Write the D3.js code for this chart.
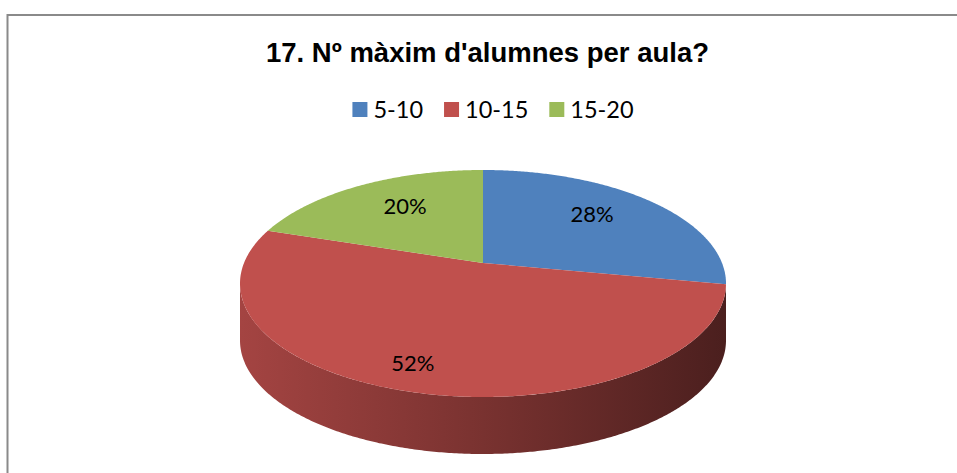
<!DOCTYPE html>
<html>
<head>
<meta charset="utf-8">
<script src="https://cdn.jsdelivr.net/npm/d3@7"></script>
<style>
  body { margin: 0; background: #fff; }
  svg { display: block; }
  .title { font-family: "Liberation Sans", Arial, sans-serif; font-weight: bold; font-size: 27.5px; fill: #000; }
  .legend-text { font-family: Lato, "Open Sans", sans-serif; font-size: 23.5px; fill: #000; }
  .pie-label { font-family: Lato, "Open Sans", sans-serif; font-size: 22px; fill: #000; }
</style>
</head>
<body>
<div class="pie_wrapper"></div>
<script>

// data

const categories = ["5-10", "10-15", "15-20"]
const values = [28, 52, 20]
const colors = ["#4f81bd", "#c0504d", "#9bbb59"]
const titleText = "17. Nº màxim d'alumnes per aula?"


// canvas

let dimensions = {
  width: 957,
  height: 473,
}

const wrapper = d3.select(".pie_wrapper")
  .append("svg")
    .attr("width", dimensions.width)
    .attr("height", dimensions.height)

// frame (only left and top edges fit in the shot)
wrapper.append("rect")
    .attr("x", 7.5)
    .attr("y", 15)
    .attr("width", 1000)
    .attr("height", 1000)
    .attr("fill", "none")
    .attr("stroke", "#8a8a8a")
    .attr("stroke-width", 2)

wrapper.append("text")
    .attr("class", "title")
    .attr("x", 487.5)
    .attr("y", 62)
    .attr("text-anchor", "middle")
    .text(titleText)


// legend

const legend = wrapper.append("g")
const items = legend.selectAll("g")
  .data(categories)
  .enter().append("g")

items.append("rect")
    .attr("width", 15)
    .attr("height", 15)
    .attr("y", -15.5)
    .attr("fill", (d, i) => colors[i])

items.append("text")
    .attr("class", "legend-text")
    .attr("x", 21)
    .text(d => d)

const itemGap = 21
let xPos = 0
items.each(function() {
  const g = d3.select(this)
  g.attr("transform", `translate(${xPos},0)`)
  xPos += 21 + g.select("text").node().getComputedTextLength() + itemGap
})
const legendWidth = xPos - itemGap
legend.attr("transform", `translate(${493 - legendWidth / 2},117.5)`)


// pie geometry (perspective tilted disc)

const pie = {
  cx: 483,
  cy: 263,
  sx: 239,     // horizontal radius factor
  sy: 109.8,   // depth radius factor
  k: 0.1806,   // perspective strength
  depth: 57,   // thickness of the disc
}

const toRad = d => d * Math.PI / 180
const toDeg = r => r * 180 / Math.PI

const project = (deg, r, drop = 0) => {
  const u = r * Math.sin(toRad(deg))
  const v = r * Math.cos(toRad(deg))
  const w = 1 + pie.k * v
  return [pie.cx + pie.sx * u / w, pie.cy - pie.sy * v / w + drop]
}

const angleScale = d3.scaleLinear()
  .domain([0, d3.sum(values)])
  .range([0, 360])

const slices = values.map((v, i) => ({
    i,
    a0: angleScale(d3.sum(values.slice(0, i))),
    a1: angleScale(d3.sum(values.slice(0, i + 1))),
    value: v,
  }))

const arcPoints = (a0, a1, r, drop) => {
  const n = Math.max(2, Math.ceil(Math.abs(a1 - a0) * 2))
  return d3.range(n + 1).map(j => project(a0 + (a1 - a0) * j / n, r, drop))
}

const line = d3.line()

const bounds = wrapper.append("g")

// front walls, visible between the two silhouette angles
const frontStart = toDeg(Math.acos(-pie.k))
const frontEnd = 360 - frontStart
const xRight = project(frontStart, 1)[0]
const xLeft = project(frontEnd, 1)[0]

const defs = wrapper.append("defs")
slices.forEach(s => {
  const grad = defs.append("linearGradient")
      .attr("id", `wall${s.i}`)
      .attr("gradientUnits", "userSpaceOnUse")
      .attr("x1", xLeft).attr("x2", xRight)
      .attr("y1", 0).attr("y2", 0)
  const base = d3.color(colors[s.i])
  grad.append("stop").attr("offset", 0).attr("stop-color", base.darker(0.45))
  grad.append("stop").attr("offset", 0.5).attr("stop-color", base.darker(1.3))
  grad.append("stop").attr("offset", 1).attr("stop-color", base.darker(2.65))
})

bounds.selectAll(".wall")
  .data(slices.filter(s => s.a1 > frontStart && s.a0 < frontEnd))
  .enter().append("path")
    .attr("class", "wall")
    .attr("fill", s => `url(#wall${s.i})`)
    .attr("d", s => {
      const a0 = Math.max(s.a0, frontStart)
      const a1 = Math.min(s.a1, frontEnd)
      const top = arcPoints(a0, a1, 1, 0)
      const bottom = arcPoints(a1, a0, 1, pie.depth)
      return line(top.concat(bottom)) + "Z"
    })

// top faces
bounds.selectAll(".top")
  .data(slices)
  .enter().append("path")
    .attr("class", "top")
    .attr("fill", s => colors[s.i])
    .attr("d", s => line([project(0, 0)].concat(arcPoints(s.a0, s.a1, 1, 0))) + "Z")

// labels
const labelRadius = [0.69, 0.82, 0.68]
const labelShift = [-4.5, 3.5, 4]
const labelPos = s => project((s.a0 + s.a1) / 2 + labelShift[s.i], labelRadius[s.i])

bounds.selectAll(".pie-label")
  .data(slices)
  .enter().append("text")
    .attr("class", "pie-label")
    .attr("text-anchor", "middle")
    .attr("dy", "0.36em")
    .attr("x", s => labelPos(s)[0])
    .attr("y", s => labelPos(s)[1])
    .text(s => `${s.value}%`)

</script>
</body>
</html>
